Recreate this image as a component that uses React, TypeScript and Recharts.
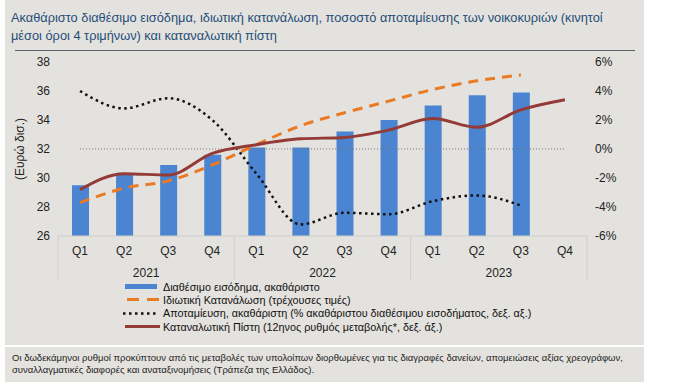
import React from "react";
import { Bar, ComposedChart, Legend, Line, XAxis, YAxis } from "recharts";

const QUARTERS = ["Q1", "Q2", "Q3", "Q4", "Q1", "Q2", "Q3", "Q4", "Q1", "Q2", "Q3", "Q4"];
const YEARS = ["2021", "2021", "2021", "2021", "2022", "2022", "2022", "2022", "2023", "2023", "2023", "2023"];

// left axis, euro bn
const INCOME = [29.5, 30.2, 30.9, 31.6, 32.1, 32.1, 33.2, 34.0, 35.0, 35.7, 35.9, null];
const CONSUMPTION = [28.3, 29.3, 29.8, 30.9, 32.3, 33.6, 34.5, 35.3, 36.1, 36.7, 37.1, null];
// right axis, %
const SAVINGS = [4.0, 2.8, 3.5, 2.0, -1.7, -5.2, -4.4, -4.5, -3.6, -3.2, -3.9, null];
const CREDIT = [-2.8, -1.7, -1.8, -0.3, 0.3, 0.7, 0.8, 1.3, 2.1, 1.5, 2.7, 3.4];
const ZERO = [0, 0, 0, 0, 0, 0, 0, 0, 0, 0, 0, 0];

const LEFT_TICKS = [26, 28, 30, 32, 34, 36, 38];
const RIGHT_TICKS = [-6, -4, -2, 0, 2, 4, 6];

const LEGEND_ORDER = ["income", "consumption", "savings", "credit"];

const TITLE_LINES = [
	"Ακαθάριστο διαθέσιμο εισόδημα, ιδιωτική κατανάλωση, ποσοστό αποταμίευσης των νοικοκυριών (κινητοί",
	"μέσοι όροι 4 τριμήνων)  και καταναλωτική πίστη",
];
const NOTE_LINES = [
	"Οι δωδεκάμηνοι ρυθμοί προκύπτουν από τις μεταβολές των υπολοίπων διορθωμένες για τις διαγραφές δανείων, απομειώσεις αξίας χρεογράφων,",
	"συναλλαγματικές διαφορές και αναταξινομήσεις (Τράπεζα  της Ελλάδος).",
];

const BLUE = "#4b84d0";
const ORANGE = "#ea7a24";
const DARK_RED = "#943b38";
const PANEL = "#e4e2de";
const FONT = '"Liberation Sans", Arial, sans-serif';

const data = QUARTERS.map((q, i) => ({
	key: `${YEARS[i]} ${q}`,
	income: INCOME[i],
	consumption: CONSUMPTION[i],
	savings: SAVINGS[i],
	credit: CREDIT[i],
	zero: ZERO[i],
}));

function QuarterTick(props: any) {
	const { x, y, index, width, visibleTicksCount } = props;
	const band = width / visibleTicksCount;
	const sep = "#d0cec9";
	return (
		<g>
			<text x={x} y={y} dy={11} textAnchor="middle" fontSize={12} fill="#222" fontFamily={FONT}>
				{QUARTERS[index]}
			</text>
			{index % 4 === 1 && (
				<text x={x + band / 2} y={y} dy={33} textAnchor="middle" fontSize={12} fill="#222" fontFamily={FONT}>
					{YEARS[index]}
				</text>
			)}
			{index % 4 === 0 && <line x1={x - band / 2} x2={x - band / 2} y1={y - 8} y2={y + 36} stroke={sep} />}
			{index === visibleTicksCount - 1 && (
				<line x1={x + band / 2} x2={x + band / 2} y1={y - 8} y2={y + 36} stroke={sep} />
			)}
		</g>
	);
}

function LegendSymbol({ kind }: { kind: string }) {
	switch (kind) {
		case "income":
			return <rect x={2} y={4} width={32} height={5} fill={BLUE} />;
		case "consumption":
			return <line x1={4} x2={36} y1={6.5} y2={6.5} stroke={ORANGE} strokeWidth={3} strokeDasharray="12 8" />;
		case "savings":
			return <line x1={0} x2={36} y1={6.5} y2={6.5} stroke="#111" strokeWidth={2.5} strokeDasharray="2.5 3.5" />;
		default:
			return <line x1={2} x2={37} y1={6.5} y2={6.5} stroke={DARK_RED} strokeWidth={3} />;
	}
}

function ChartLegend({ payload }: any) {
	const items = (payload || [])
		.filter((p: any) => LEGEND_ORDER.includes(p.dataKey))
		.sort((a: any, b: any) => LEGEND_ORDER.indexOf(a.dataKey) - LEGEND_ORDER.indexOf(b.dataKey));
	return (
		<div style={{ fontFamily: FONT, fontSize: 10.8, color: "#111" }}>
			{items.map((item: any) => (
				<div key={item.dataKey} style={{ display: "flex", alignItems: "center", height: 13.3 }}>
					<svg width={38} height={13}>
						<LegendSymbol kind={item.dataKey} />
					</svg>
					<span style={{ marginLeft: 2, whiteSpace: "nowrap" }}>{item.value}</span>
				</div>
			))}
		</div>
	);
}

export default function App() {
	return (
		<div style={{ position: "absolute", left: 0, top: 0, width: 680, height: 389, background: "#fff", fontFamily: FONT }}>
			<div style={{ position: "absolute", left: 5, top: 0, width: 639, height: 345, background: PANEL }} />
			<div style={{ position: "absolute", left: 5, top: 347, width: 639, height: 35, background: PANEL }} />
			<div style={{ position: "absolute", left: 15, top: 50, width: 620, height: 1, background: "#5d6470" }} />
			<div
				style={{
					position: "absolute",
					left: 11,
					top: 9,
					fontSize: 12.8,
					lineHeight: "18px",
					color: "#1f4e79",
					whiteSpace: "nowrap",
				}}
			>
				{TITLE_LINES.map((t) => (
					<div key={t}>{t}</div>
				))}
			</div>
			<div
				style={{
					position: "absolute",
					left: 12,
					top: 352,
					fontSize: 9.5,
					lineHeight: "12px",
					color: "#222",
					whiteSpace: "nowrap",
				}}
			>
				{NOTE_LINES.map((t) => (
					<div key={t}>{t}</div>
				))}
			</div>
			<div style={{ position: "absolute", left: 0, top: 0 }}>
				<ComposedChart width={680} height={389} data={data} margin={{ top: 62, right: 43, bottom: 109, left: 8 }}>
					<XAxis
						dataKey="key"
						interval={0}
						height={44}
						tickLine={false}
						axisLine={{ stroke: "#d0cec9" }}
						tick={<QuarterTick />}
					/>
					<YAxis
						yAxisId="left"
						width={50}
						domain={[26, 38]}
						ticks={LEFT_TICKS}
						axisLine={false}
						tickLine={false}
						tick={{ fontSize: 12, fill: "#222", fontFamily: FONT }}
						label={{
							value: "(Ευρώ δισ.)",
							angle: -90,
							position: "insideLeft",
							offset: 12,
							style: { textAnchor: "middle", fontSize: 12, fill: "#222", fontFamily: FONT },
						}}
					/>
					<YAxis
						yAxisId="right"
						orientation="right"
						width={50}
						domain={[-6, 6]}
						ticks={RIGHT_TICKS}
						axisLine={false}
						tickLine={false}
						tickFormatter={(v: number) => `${v}%`}
						tick={{ fontSize: 12, fill: "#222", fontFamily: FONT }}
					/>
					<Legend
						layout="horizontal"
						verticalAlign="middle"
						align="center"
						wrapperStyle={{ left: 123, top: 280, width: 460 }}
						content={<ChartLegend />}
					/>
					<Bar
						yAxisId="left"
						dataKey="income"
						name="Διαθέσιμο εισόδημα, ακαθάριστο"
						fill={BLUE}
						barSize={17}
						isAnimationActive={false}
					/>
					<Line
						yAxisId="right"
						dataKey="zero"
						legendType="none"
						stroke="#777"
						strokeWidth={1}
						strokeDasharray="1 2"
						dot={false}
						activeDot={false}
						isAnimationActive={false}
					/>
					<Line
						yAxisId="left"
						dataKey="consumption"
						name="Ιδιωτική Κατανάλωση (τρέχουσες τιμές)"
						type="monotone"
						stroke={ORANGE}
						strokeWidth={3}
						strokeDasharray="10 7"
						dot={false}
						isAnimationActive={false}
					/>
					<Line
						yAxisId="right"
						dataKey="savings"
						name="Αποταμίευση, ακαθάριστη (% ακαθάριστου διαθέσιμου εισοδήματος, δεξ. αξ.)"
						type="monotone"
						stroke="#111"
						strokeWidth={2.5}
						strokeDasharray="2.5 3.5"
						dot={false}
						isAnimationActive={false}
					/>
					<Line
						yAxisId="right"
						dataKey="credit"
						name="Καταναλωτική Πίστη (12ηνος ρυθμός μεταβολής*, δεξ. άξ.)"
						type="monotone"
						stroke={DARK_RED}
						strokeWidth={3}
						dot={false}
						isAnimationActive={false}
					/>
				</ComposedChart>
			</div>
		</div>
	);
}
